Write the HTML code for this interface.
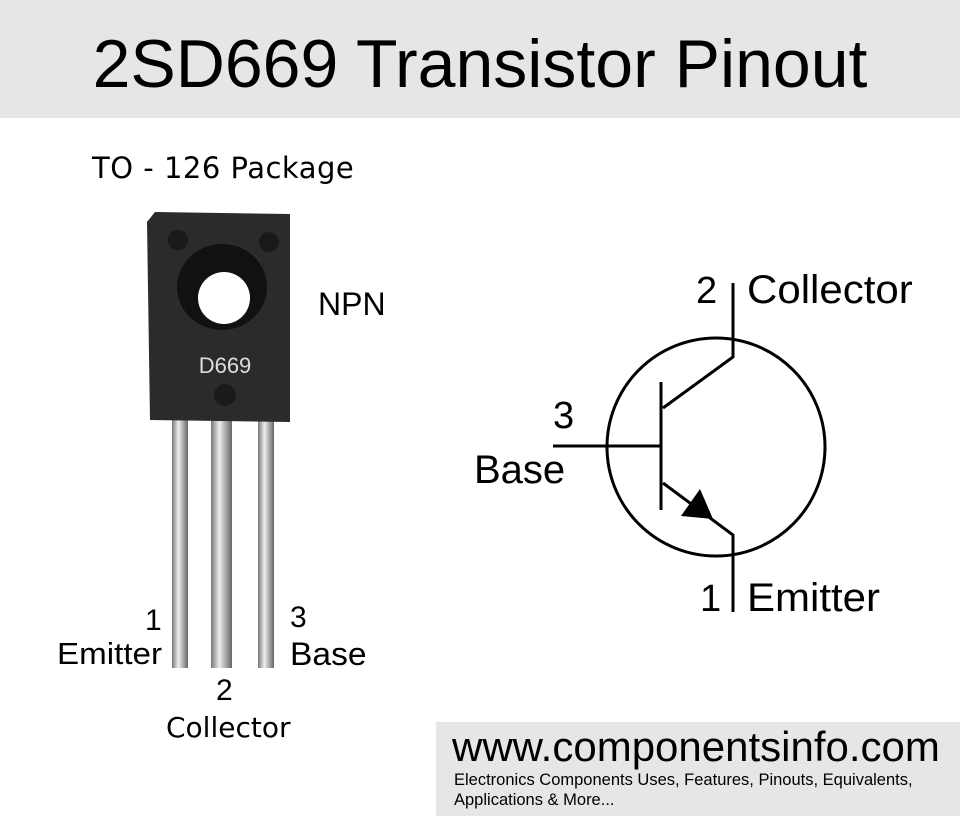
<!DOCTYPE html>
<html><head><meta charset="utf-8"><style>
body{margin:0;width:960px;height:816px;background:#fff;position:relative;overflow:hidden;font-family:"Liberation Sans",sans-serif;}
.t{position:absolute;white-space:nowrap;color:#000;}
</style></head><body>
<div style="position:absolute;left:0;top:0;width:960px;height:118px;background:#e6e6e6"></div>
<div class="t" style="left:0;width:960px;text-align:center;top:22px;font-size:68px;line-height:84px;">2SD669 Transistor Pinout</div>
<div class="t" style="left:92px;top:151px;font-size:29px;font-family:'DejaVu Sans',sans-serif;letter-spacing:0.5px">TO - 126 Package</div>
<div class="t" style="left:318px;top:286px;font-size:32px;">NPN</div>
<svg style="position:absolute;left:0;top:0" width="960" height="816">
<defs><linearGradient id="lg" x1="0" x2="1"><stop offset="0" stop-color="#777"/><stop offset="0.4" stop-color="#eee"/><stop offset="0.7" stop-color="#aaa"/><stop offset="1" stop-color="#666"/></linearGradient></defs>
<rect x="172" y="418" width="16" height="250" fill="url(#lg)"/>
<rect x="211" y="418" width="21" height="250" fill="url(#lg)"/>
<rect x="258" y="418" width="16" height="250" fill="url(#lg)"/>
<path d="M155 212 L290 214 L290 422 L150 420 L147 222 Z" fill="#2b2b2b"/>
<circle cx="178" cy="240" r="10" fill="#1a1a1a"/>
<circle cx="269" cy="242" r="10" fill="#1a1a1a"/>
<circle cx="225" cy="395" r="11" fill="#1a1a1a"/>
<ellipse cx="222" cy="287" rx="45" ry="43" fill="#111"/>
<circle cx="224" cy="298" r="26" fill="#fff"/>
<text x="225" y="373" font-size="22" fill="#ddd" text-anchor="middle" font-family="Liberation Sans">D669</text>
<g stroke="#000" stroke-width="3" fill="none">
<circle cx="716" cy="447" r="109"/>
<polyline points="733,283 733,357 663,408"/>
<line x1="661" y1="382" x2="661" y2="510"/>
<line x1="553" y1="446" x2="661" y2="446"/>
<polyline points="663,483 733,535 733,612"/>
</g>
<polygon points="713,519 681,516 700,489" fill="#000"/>
</svg>
<div class="t" style="left:696px;top:270px;font-size:38px;">2</div>
<div class="t" style="left:747px;top:268px;font-size:40px;transform:scaleX(1.05);transform-origin:left">Collector</div>
<div class="t" style="left:553px;top:395px;font-size:38px;">3</div>
<div class="t" style="left:474px;top:448px;font-size:40px;">Base</div>
<div class="t" style="left:700px;top:578px;font-size:38px;">1</div>
<div class="t" style="left:747px;top:576px;font-size:40px;transform:scaleX(1.05);transform-origin:left">Emitter</div>
<div class="t" style="left:145px;top:604px;font-size:30px;">1</div>
<div class="t" style="left:57px;top:636px;font-size:31px;transform:scaleX(1.07);transform-origin:left">Emitter</div>
<div class="t" style="left:290px;top:601px;font-size:30px;">3</div>
<div class="t" style="left:290px;top:636px;font-size:32px;transform:scaleX(1.05);transform-origin:left">Base</div>
<div class="t" style="left:216px;top:674px;font-size:30px;">2</div>
<div class="t" style="left:166px;top:711px;font-size:28px;font-family:'DejaVu Sans',sans-serif">Collector</div>
<div style="position:absolute;left:436px;top:722px;width:524px;height:94px;background:#e6e6e6"></div>
<div class="t" style="left:452px;top:723px;font-size:42px;">www.componentsinfo.com</div>
<div class="t" style="left:454px;top:770px;font-size:16.5px;line-height:20px;">Electronics Components Uses, Features, Pinouts, Equivalents,<br>Applications &amp; More...</div>
</body></html>
